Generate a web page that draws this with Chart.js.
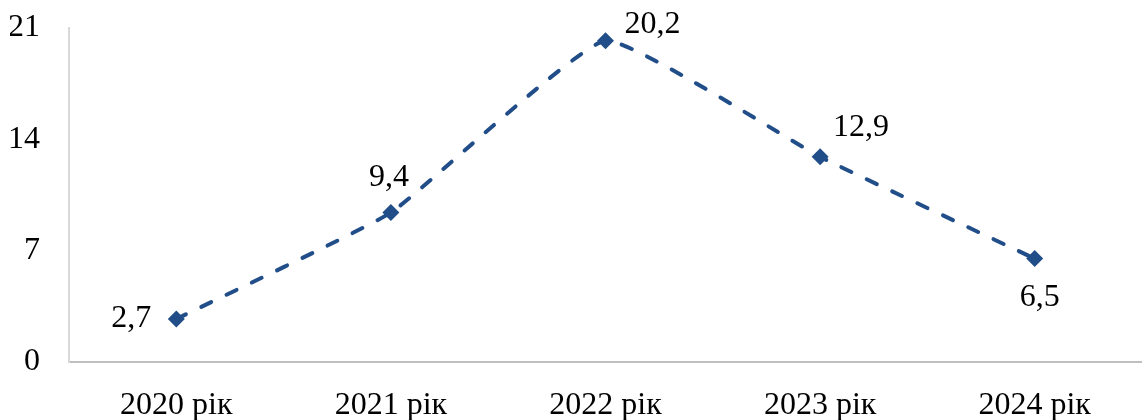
<!DOCTYPE html>
<html>
<head>
<meta charset="utf-8">
<script src="https://cdn.jsdelivr.net/npm/chart.js@4/dist/chart.umd.min.js"></script>
<style>
html,body{margin:0;padding:0;background:#fff;}
#wrap{width:1142px;height:420px;}
</style>
</head>
<body>
<div id="wrap"><canvas id="c" width="1142" height="420"></canvas></div>
<script>
const categories = ['2020 рік', '2021 рік', '2022 рік', '2023 рік', '2024 рік'];
const values = [2.7, 9.4, 20.2, 12.9, 6.5];
const valueLabels = ['2,7', '9,4', '20,2', '12,9', '6,5'];
const yTicks = [0, 7, 14, 21];
const labelPlacement = ['left', 'above', 'aboveRight', 'aboveRight2', 'below'];

const FONT = '"Liberation Serif", "Times New Roman", serif';
const COLOR = '#214e89';

const labelPlugin = {
  id: 'valueLabels',
  afterDatasetsDraw(chart) {
    const ctx = chart.ctx;
    const meta = chart.getDatasetMeta(0);
    ctx.save();
    ctx.font = '32px ' + FONT;
    ctx.fillStyle = '#000';
    meta.data.forEach((pt, i) => {
      const p = labelPlacement[i];
      let x = pt.x, y = pt.y;
      if (p === 'left') { ctx.textAlign = 'right'; x -= 25; y += 0; }
      else if (p === 'above') { ctx.textAlign = 'center'; x -= 2; y -= 35; }
      else if (p === 'aboveRight') { ctx.textAlign = 'left'; x += 19; y -= 16; }
      else if (p === 'aboveRight2') { ctx.textAlign = 'left'; x += 13; y -= 29; }
      else if (p === 'below') { ctx.textAlign = 'center'; x += 5; y += 39; }
      ctx.textBaseline = 'middle';
      ctx.fillText(valueLabels[i], x, y);
    });
    ctx.restore();
  }
};

new Chart(document.getElementById('c'), {
  type: 'line',
  data: {
    labels: categories,
    datasets: [{
      data: values,
      borderColor: COLOR,
      backgroundColor: COLOR,
      borderWidth: 4,
      borderDash: [11, 17],
      borderCapStyle: 'round',
      tension: 0.12,
      pointStyle: 'rectRot',
      pointRadius: 8.5,
      pointHoverRadius: 8.5,
      pointBackgroundColor: COLOR,
      pointBorderColor: COLOR,
      pointBorderWidth: 0,
      fill: false
    }]
  },
  options: {
    responsive: false,
    animation: false,
    events: [],
    layout: { autoPadding: false, padding: { left: 10, right: 0, top: 0, bottom: 0 } },
    plugins: { legend: { display: false }, tooltip: { enabled: false } },
    scales: {
      x: {
        offset: true,
        grid: { display: false, drawTicks: false, tickLength: 0 },
        border: { display: true, color: '#bfbfbf', width: 2 },
        ticks: { color: '#000', font: { family: FONT, size: 32 }, padding: 24, maxRotation: 0, autoSkip: false },
        afterFit(scale) { scale.height = 58; }
      },
      y: {
        min: 0, max: 21,
        afterBuildTicks(scale) { scale.ticks = yTicks.map(v => ({ value: v })); },
        grid: { display: false, drawTicks: false, tickLength: 0 },
        border: { display: true, color: '#d9d9d9', width: 2 },
        ticks: { color: '#000', font: { family: FONT, size: 32 }, padding: 29 },
        afterFit(scale) { scale.width = 59; scale.paddingTop = 28; scale.paddingBottom = 0; }
      }
    }
  },
  plugins: [labelPlugin]
});
</script>
</body>
</html>
